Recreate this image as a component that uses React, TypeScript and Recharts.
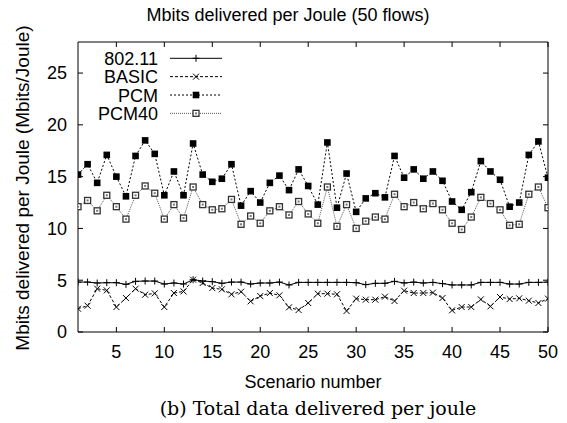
import React from 'react';
import { LineChart, Line, XAxis, YAxis } from 'recharts';

const scenarios = [1,2,3,4,5,6,7,8,9,10,11,12,13,14,15,16,17,18,19,20,21,22,23,24,25,26,27,28,29,30,31,32,33,34,35,36,37,38,39,40,41,42,43,44,45,46,47,48,49,50];

const ieee80211 = [4.82,4.82,4.73,4.76,4.76,4.6,4.89,4.92,4.92,4.63,4.73,4.63,5.05,4.92,4.86,4.7,4.82,4.82,4.63,4.73,4.73,4.82,4.54,4.79,4.79,4.79,4.79,4.79,4.79,4.76,4.57,4.7,4.7,4.89,4.73,4.82,4.73,4.79,4.67,4.54,4.54,4.54,4.79,4.79,4.79,4.63,4.63,4.79,4.79,4.82];

const basic = [2.25,2.54,4.18,4.02,2.41,3.28,4.18,3.6,3.73,2.41,3.76,3.92,5.05,4.73,4.24,4.12,3.64,3.89,2.96,3.47,3.76,3.54,2.38,2.12,2.8,3.7,3.7,3.64,2.03,3.22,3.12,3.12,3.41,2.99,3.99,3.76,3.76,3.8,3.28,2.09,2.41,2.41,3.15,2.48,3.38,3.18,3.25,3.02,2.8,3.22];

const pcm = [15.2,16.2,14.4,17.1,15.0,13.1,17.0,18.5,17.2,13.2,15.5,13.2,18.2,15.2,14.5,14.8,16.2,12.2,13.6,12.5,14.4,15.1,13.7,15.7,14.1,12.3,18.3,12.0,15.3,11.6,12.9,13.4,13.0,17.0,14.9,15.7,14.8,15.5,14.6,12.6,11.8,13.5,16.5,15.5,14.7,12.1,12.5,17.1,18.4,14.9];

const pcm40 = [12.1,12.7,11.7,13.2,12.1,10.9,13.2,14.1,13.4,10.9,12.3,11.0,14.0,12.3,11.8,11.9,12.8,10.4,11.2,10.5,11.7,12.1,11.3,12.6,11.4,10.5,14.0,10.2,12.3,10.0,10.7,11.1,10.9,13.3,12.1,12.5,11.9,12.4,11.8,10.5,9.9,11.1,13.0,12.4,11.8,10.3,10.4,13.3,14.0,12.0];

const xTicks = [5,10,15,20,25,30,35,40,45,50];
const yTicks = [0,5,10,15,20,25];

const title = 'Mbits delivered per Joule (50 flows)';
const xLabel = 'Scenario number';
const yLabel = 'Mbits delivered per Joule (Mbits/Joule)';
const caption = '(b) Total data delivered per joule';

type MarkerType = 'plus' | 'cross' | 'filledSquare' | 'openSquare';

const series: { key: string; name: string; color: string; dash?: string; marker: MarkerType }[] = [
  { key: 'ieee', name: '802.11', color: '#000', dash: undefined, marker: 'plus' },
  { key: 'basic', name: 'BASIC', color: '#000', dash: '3 2', marker: 'cross' },
  { key: 'pcm', name: 'PCM', color: '#000', dash: '2 2', marker: 'filledSquare' },
  { key: 'pcm40', name: 'PCM40', color: '#555', dash: '1 1', marker: 'openSquare' },
];

const data = scenarios.map((s, i) => ({
  scenario: s,
  ieee: ieee80211[i],
  basic: basic[i],
  pcm: pcm[i],
  pcm40: pcm40[i],
}));

function markerEl(type: MarkerType, cx: number, cy: number, key?: string) {
  if (type === 'plus') {
    return (
      <g key={key}>
        <line x1={cx - 3.5} y1={cy} x2={cx + 3.5} y2={cy} stroke="#000" strokeWidth={1} />
        <line x1={cx} y1={cy - 3.5} x2={cx} y2={cy + 3.5} stroke="#000" strokeWidth={1} />
      </g>
    );
  }
  if (type === 'cross') {
    return (
      <g key={key}>
        <line x1={cx - 3} y1={cy - 3} x2={cx + 3} y2={cy + 3} stroke="#000" strokeWidth={1} />
        <line x1={cx - 3} y1={cy + 3} x2={cx + 3} y2={cy - 3} stroke="#000" strokeWidth={1} />
      </g>
    );
  }
  if (type === 'filledSquare') {
    return <rect key={key} x={cx - 3.3} y={cy - 3.3} width={6.6} height={6.6} fill="#000" />;
  }
  return (
    <g key={key}>
      <rect x={cx - 3} y={cy - 3} width={6} height={6} fill="#fff" stroke="#333" strokeWidth={1.3} />
      <rect x={cx - 1} y={cy - 1} width={2} height={2} fill="#777" />
    </g>
  );
}

const FONT = '"Liberation Sans", Arial, Helvetica, sans-serif';

export default function App() {
  return (
    <div style={{ position: 'absolute', left: 0, top: 0, width: 567, height: 423, background: '#fff' }}>
      <LineChart
        width={567}
        height={423}
        data={data}
        margin={{ top: 41, right: 18, bottom: 61, left: 0 }}
        style={{ fontFamily: FONT }}
      >
        <XAxis
          xAxisId="bottom"
          dataKey="scenario"
          type="number"
          domain={[1, 50]}
          ticks={xTicks}
          allowDataOverflow
          height={30}
          stroke="#000"
          tickSize={-5}
          tickMargin={18.5}
          tick={{ fill: '#000', fontSize: 18, fontFamily: FONT }}
        />
        <XAxis
          xAxisId="top"
          orientation="top"
          dataKey="scenario"
          type="number"
          domain={[1, 50]}
          ticks={xTicks}
          allowDataOverflow
          height={1}
          stroke="#000"
          tickSize={-5}
          tickFormatter={() => ''}
        />
        <YAxis
          yAxisId="left"
          type="number"
          domain={[0, 28]}
          ticks={yTicks}
          allowDataOverflow
          width={78}
          stroke="#000"
          tickSize={-5}
          tickMargin={16}
          tick={{ fill: '#000', fontSize: 18, fontFamily: FONT }}
        />
        <YAxis
          yAxisId="right"
          orientation="right"
          type="number"
          domain={[0, 28]}
          ticks={yTicks}
          allowDataOverflow
          width={1}
          stroke="#000"
          tickSize={-5}
          tickFormatter={() => ''}
        />
        {series.map((s) => (
          <Line
            key={s.key}
            xAxisId="bottom"
            yAxisId="left"
            type="linear"
            dataKey={s.key}
            name={s.name}
            stroke={s.color}
            strokeWidth={1}
            strokeDasharray={s.dash}
            isAnimationActive={false}
            dot={(p: any) => markerEl(s.marker, p.cx, p.cy, `${s.key}-${p.index}`)}
            activeDot={false}
          />
        ))}
      </LineChart>
      <svg
        width={567}
        height={423}
        style={{ position: 'absolute', left: 0, top: 0, pointerEvents: 'none' }}
      >
        <text x={288} y={20.7} textAnchor="middle" fontFamily={FONT} fontSize={18} fill="#000">
          {title}
        </text>
        <text x={313} y={388} textAnchor="middle" fontFamily={FONT} fontSize={18} fill="#000">
          {xLabel}
        </text>
        <text
          x={28.5}
          y={188}
          textAnchor="middle"
          fontFamily={FONT}
          fontSize={19}
          fill="#000"
          transform="rotate(-90, 28.5, 188)"
        >
          {yLabel}
        </text>
        <text x={318} y={415} textAnchor="middle" fontFamily='"DejaVu Serif", serif' fontSize={19} fill="#000">
          {caption}
        </text>
        {series.map((s, i) => {
          const cy = 58.3 + i * 18.35;
          return (
            <g key={s.key}>
              <text x={158} y={cy + 6.5} textAnchor="end" fontFamily={FONT} fontSize={18} fill="#000">
                {s.name}
              </text>
              <line x1={170} y1={cy} x2={222} y2={cy} stroke={s.color} strokeWidth={1} strokeDasharray={s.dash} />
              {markerEl(s.marker, 196, cy)}
            </g>
          );
        })}
      </svg>
    </div>
  );
}
